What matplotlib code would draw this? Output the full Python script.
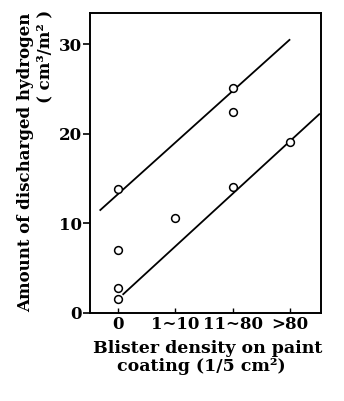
import matplotlib
matplotlib.use('Agg')
from matplotlib import pyplot as plt

# blister density categories on x axis
categories = ['0', '1∼10', '11∼80', '>80']
cat_pos = [0, 1, 2, 3]

# measured points (category index, discharged hydrogen)
pt_x = [0, 0, 0, 0, 1, 2, 2, 2, 3]
pt_y = [13.9, 7.0, 2.8, 1.6, 10.6, 25.1, 22.4, 14.1, 19.1]

# the two drawn trend lines (end points)
upper_x = [-0.31, 2.99]
upper_y = [11.5, 30.5]
lower_x = [0.09, 3.51]
lower_y = [2.1, 22.2]

yticks = [0, 10, 20, 30]

plt.rcParams['font.family'] = 'DejaVu Serif'
plt.rcParams['font.weight'] = 'bold'

fig = plt.figure(figsize=(3.44, 4.01), dpi=100)
ax = fig.add_axes([0.2616, 0.2195, 0.6715, 0.748])

ax.plot(upper_x, upper_y, color='black', lw=1.3, zorder=2)
ax.plot(lower_x, lower_y, color='black', lw=1.3, zorder=2)
ax.plot(pt_x, pt_y, 'o', ms=5.6, mfc='white', mec='black', mew=1.1, zorder=3)

ax.set_xlim(-0.49, 3.54)
ax.set_ylim(0, 33.5)
ax.set_xticks(cat_pos)
ax.set_xticklabels(categories)
ax.set_yticks(yticks)
ax.tick_params(axis='x', direction='in', length=3.5, width=1, labelsize=12, pad=2)
ax.tick_params(axis='y', direction='out', length=5, width=1.2, labelsize=12, pad=1)
for lab in ax.get_xticklabels() + ax.get_yticklabels():
    lab.set_fontweight('bold')
for sp in ax.spines.values():
    sp.set_linewidth(1.4)

fig.text(0.0756, 1 - 13 / 401, 'Amount of discharged hydrogen', rotation=90,
         ha='center', va='top', fontsize=12, fontweight='bold')
fig.text(0.131, 1 - 10 / 401, '( cm³/m² )', rotation=90,
         ha='center', va='top', fontsize=12, fontweight='bold')

fig.text(0.603, 0.132, 'Blister density on paint', ha='center', va='center',
         fontsize=12.5, fontweight='bold')
fig.text(0.586, 0.085, 'coating (1/5 cm²)', ha='center', va='center',
         fontsize=12.5, fontweight='bold')

fig.savefig('out.png', dpi=100)
